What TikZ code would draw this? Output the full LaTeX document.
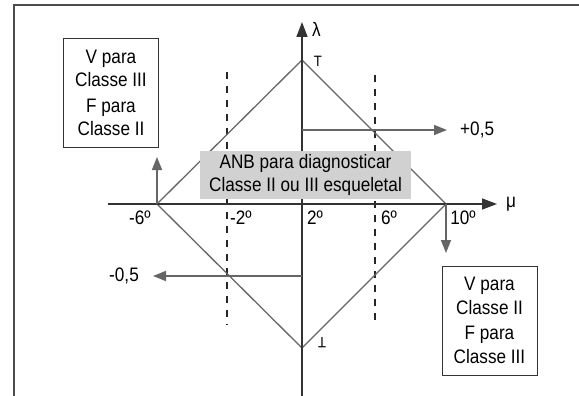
\documentclass[tikz,border=0pt]{standalone}
\usepackage{fontspec}
\setmainfont[FakeStretch=0.88]{Liberation Sans}
\usetikzlibrary{arrows.meta,positioning}

\begin{document}
\begin{tikzpicture}[
    x=1pt, y=-1pt,
    font=\fontsize{19.5}{23.5}\selectfont,
    every node/.style={align=center},
    frame/.style={draw=black!70, line width=1.6pt},
    axis/.style={draw=black!80, line width=1.6pt},
    diag/.style={draw=black!60, line width=1.3pt},
    guide/.style={draw=black!85, line width=1.3pt, dash pattern=on 7pt off 7pt},
    arr/.style={-{Triangle[length=13pt,width=10pt]}, draw=black!60, color=black!60, line width=1.6pt},
    axarr/.style={axis, -{Triangle[length=15pt,width=11pt]}, color=black!80},
    note/.style={draw=black!80, line width=1pt, minimum width=95pt,
      minimum height=109pt, inner sep=2pt},
    anb/.style={fill=black!18, minimum width=211pt, minimum height=48pt, inner sep=2pt},
    lbl/.style={inner sep=1pt},
    tee/.style={inner sep=0pt, font=\fontsize{15}{15}\selectfont},
  ]
    \useasboundingbox (0,0) rectangle (579,396);

    % --- frame ---
    \draw[frame] (14,396) -- (14,5) -- (579,5);

    % --- diamond corners and axis ends ---
    \coordinate (top) at (302,60);
    \coordinate (bot) at (302,348);
    \coordinate (lft) at (157,204);
    \coordinate (rgt) at (446,204);
    \coordinate (xs) at (108,204);
    \coordinate (xe) at (497,204);
    \coordinate (ys) at (302,396);
    \coordinate (ye) at (302,22);

    % --- dashed guides ---
    \coordinate (g1t) at (227,72);
    \coordinate (g1b) at (227,325);
    \coordinate (g2t) at (375,75);
    \coordinate (g2b) at (375,327);
    \draw[guide] (g1t) -- (g1b);
    \draw[guide] (g2t) -- (g2b);

    % --- diamond ---
    \draw[diag] (top) -- (rgt) -- (bot) -- (lft) -- cycle;

    % --- axes ---
    \draw[axarr] (xs) -- (xe);
    \draw[axarr] (ys) -- (ye);
    \node[lbl, anchor=west] (lam) at (311,29) {λ};
    \node[lbl, anchor=west] (mu) at (505,204) {μ};
    \node[tee] (tt) at (318,61) {T};
    \node[tee, rotate=180] (tb) at (322,343) {T};

    % --- tick labels ---
    \node[lbl] (t1) at (140,218) {-6º};
    \node[lbl] (t2) at (241,218) {-2º};
    \node[lbl] (t3) at (315,218) {2º};
    \node[lbl] (t4) at (389,218) {6º};
    \node[lbl] (t5) at (463,218) {10º};

    % --- +0,5 / -0,5 ---
    \coordinate (pa) at (302,130);
    \coordinate (pb) at (447,130);
    \coordinate (ma) at (302,276);
    \coordinate (mb) at (153,276);
    \draw[arr] (pa) -- (pb);
    \draw[arr] (ma) -- (mb);
    \node[lbl, anchor=west] (plus) at (459,130) {+0,5};
    \node[lbl, anchor=east] (minus) at (140,276) {-0,5};

    % --- short arrows at the corners ---
    \coordinate (up) at (157,157);
    \coordinate (dn) at (446,253);
    \draw[arr] (lft) -- (up);
    \draw[arr] (rgt) -- (dn);

    % --- notes ---
    \node[note] (n3) at (111,93) {V para\\Classe III\\[2pt]F para\\Classe II};
    \node[note] (n2) at (489.5,320.5) {V para\\Classe II\\[2pt]F para\\Classe III};

    % --- ANB box ---
    \node[anb] (anb) at (305.5,175) {ANB para diagnosticar\\Classe II ou III esqueletal};
\end{tikzpicture}
\end{document}
